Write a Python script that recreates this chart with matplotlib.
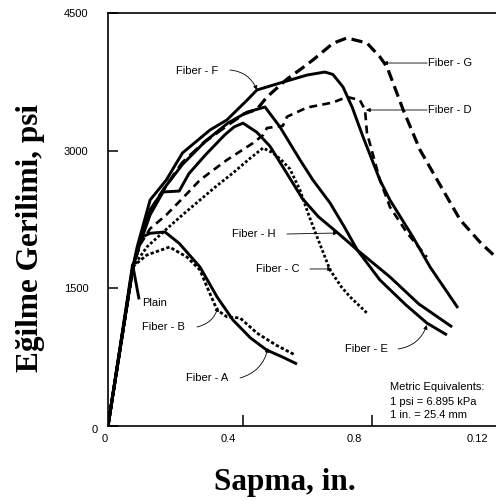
import matplotlib
matplotlib.use("Agg")
from matplotlib import pyplot as plt
from matplotlib import transforms

# deflection (in.) / flexural stress (psi)
plain_x = [0, 0.076, 0.096]
plain_y = [0, 1760, 1380]

a_x = [0, 0.077, 0.1, 0.13, 0.176, 0.22, 0.284, 0.337, 0.386, 0.44, 0.49, 0.54, 0.584]
a_y = [0, 1733, 2050, 2100, 2114, 1990, 1733, 1406, 1155, 960, 828, 750, 675]

b_x = [0, 0.077, 0.083, 0.12, 0.19, 0.244, 0.284, 0.306, 0.337, 0.368, 0.408, 0.46, 0.52, 0.578]
b_y = [0, 1733, 1755, 1863, 1950, 1841, 1700, 1515, 1264, 1188, 1177, 1013, 880, 774]

c_x = [0, 0.077, 0.12, 0.182, 0.23, 0.284, 0.33, 0.386, 0.44, 0.479, 0.51, 0.535, 0.562,
       0.593, 0.62, 0.646, 0.686, 0.72, 0.748, 0.80]
c_y = [0, 1733, 1950, 2150, 2300, 2462, 2600, 2757, 2920, 3029, 2975, 2900, 2800,
       2571, 2300, 2059, 1700, 1520, 1406, 1231]

d_x = [0, 0.077, 0.1, 0.13, 0.18, 0.23, 0.284, 0.367, 0.448, 0.479, 0.491, 0.54, 0.553,
       0.615, 0.695, 0.738, 0.778, 0.794, 0.80, 0.84, 0.871, 0.924, 0.985]
d_y = [0, 1733, 1980, 2150, 2300, 2480, 2680, 2898, 3083, 3170, 3247, 3270, 3370,
       3470, 3525, 3585, 3552, 3443, 3193, 2680, 2386, 2103, 1841]

e_x = [0, 0.077, 0.1, 0.13, 0.18, 0.23, 0.3, 0.37, 0.43, 0.485, 0.531, 0.593, 0.633,
       0.686, 0.73, 0.77, 0.84, 0.92, 0.985, 1.047]
e_y = [0, 1733, 2050, 2350, 2620, 2850, 3100, 3300, 3420, 3476, 3260, 2900, 2680,
       2430, 2170, 1918, 1591, 1320, 1122, 992]

f_x = [0, 0.077, 0.09, 0.13, 0.18, 0.23, 0.315, 0.367, 0.43, 0.46, 0.531, 0.615, 0.67,
       0.695, 0.726, 0.754, 0.788, 0.84, 0.871, 0.942, 0.995, 1.081]
f_y = [0, 1733, 1950, 2462, 2680, 2975, 3225, 3334, 3552, 3661, 3737, 3824, 3857,
       3830, 3694, 3476, 3149, 2680, 2462, 2059, 1732, 1286]

g_x = [0, 0.077, 0.1, 0.13, 0.18, 0.23, 0.3, 0.37, 0.42, 0.46, 0.491, 0.553, 0.6, 0.633,
       0.695, 0.738, 0.80, 0.84, 0.862, 0.912, 0.964, 1.017, 1.088, 1.15, 1.21]
g_y = [0, 1733, 2000, 2350, 2620, 2870, 3100, 3280, 3400, 3450, 3585, 3780, 3900, 3988,
       4170, 4228, 4173, 4021, 3912, 3443, 3007, 2680, 2245, 2000, 1800]

h_x = [0, 0.077, 0.1, 0.13, 0.17, 0.22, 0.25, 0.3, 0.36, 0.39, 0.417, 0.46, 0.5, 0.553,
       0.6, 0.65, 0.71, 0.77, 0.871, 0.96, 1.063]
h_y = [0, 1733, 2000, 2300, 2550, 2560, 2750, 2950, 3170, 3260, 3300, 3200, 3050, 2750,
       2480, 2280, 2103, 1918, 1624, 1330, 1079]

x_tick_labels = ["0", "0.4", "0.8", "0.12"]
y_ticks = [0, 1500, 3000, 4500]

sans = "Liberation Sans"
serif = "Liberation Serif"

fig = plt.figure(figsize=(4.96, 5.01), dpi=100)
ax = fig.add_axes([108/496, 1 - 426/501, 1 - 108/496, 413/501])

solid = dict(color="black", lw=2.1, solid_capstyle="butt")
ax.plot(plain_x, plain_y, **solid)
ax.plot(a_x, a_y, **solid)
ax.plot(e_x, e_y, **solid)
ax.plot(f_x, f_y, **solid)
ax.plot(h_x, h_y, **solid)
ax.plot(b_x, b_y, color="black", lw=2.0, linestyle=(0, (1.2, 0.8)))
ax.plot(c_x, c_y, color="black", lw=2.0, linestyle=(0, (1.0, 0.8)))
ax.plot(d_x, d_y, color="black", lw=1.9, linestyle=(0, (3.0, 2.0)))
ax.plot(g_x, g_y, color="black", lw=2.3, linestyle=(0, (3.5, 1.8)))

ax.set_xlim(0, 1.1986)
ax.set_ylim(0, 4500)

for side in ["top", "bottom", "left"]:
    ax.spines[side].set_linewidth(1.2)
ax.spines["right"].set_visible(False)

# tick marks sit where the scan puts them, labels are placed separately
ax.set_xticks([0.417, 0.8156])
ax.set_xticklabels([])
ax.tick_params(axis="x", direction="in", length=8, width=1.1)
ax.set_yticks(y_ticks)
ax.set_yticklabels([""] + [str(v) for v in y_ticks[1:]], fontfamily=sans, fontsize=8)
ax.tick_params(axis="y", direction="in", length=7, width=1.1, pad=14)
ax.text(-10/388, -4/413, "0", transform=ax.transAxes, ha="right", va="center",
        fontfamily=sans, fontsize=8)

trans = transforms.blended_transform_factory(ax.transData, ax.transAxes)
for pos, lab in zip([-0.009, 0.371, 0.76, 1.14], x_tick_labels):
    ax.text(pos, -13/413, lab, transform=trans, ha="center", va="center",
            fontfamily=sans, fontsize=8)

fig.text(31/496, 1 - 238.5/501, "Eğilme Gerilimi, psi", rotation=90, ha="center",
         va="center", fontfamily=serif, fontweight="bold", fontsize=22.5)
fig.text(285/496, 1 - 490/501, "Sapma, in.", ha="center", va="baseline",
         fontfamily=serif, fontweight="bold", fontsize=22.5)

def label(txt, xt, yt, ha="right"):
    ax.text(xt, yt, txt, ha=ha, va="center", fontfamily=sans, fontsize=8)

def arrow(start, end, rad=0.0):
    ax.annotate("", xy=end, xytext=start,
                arrowprops=dict(arrowstyle="-|>", lw=0.6, color="black",
                                shrinkA=0, shrinkB=0, mutation_scale=6,
                                connectionstyle="arc3,rad=%s" % rad))

label("Fiber - F", 0.34, 3868)
arrow((0.377, 3879), (0.46, 3661), -0.3)
label("Fiber - G", 0.989, 3955, ha="left")
arrow((0.986, 3955), (0.85, 3955))
label("Fiber - D", 0.989, 3443, ha="left")
arrow((0.986, 3443), (0.797, 3443))
label("Fiber - H", 0.516, 2092)
arrow((0.553, 2092), (0.71, 2103))
label("Fiber - C", 0.593, 1711)
arrow((0.624, 1711), (0.692, 1711))
label("Plain", 0.105, 1340, ha="left")
label("Fiber - B", 0.238, 1079)
arrow((0.275, 1079), (0.34, 1297), 0.3)
label("Fiber - E", 0.865, 839)
arrow((0.896, 839), (0.985, 1100), 0.3)
label("Fiber - A", 0.371, 523)
arrow((0.408, 523), (0.494, 850), 0.3)

ax.text(0.871, 425, "Metric Equivalents:", ha="left", va="center", fontfamily=sans, fontsize=8)
ax.text(0.871, 262, "1 psi = 6.895 kPa", ha="left", va="center", fontfamily=sans, fontsize=8)
ax.text(0.871, 120, "1 in. = 25.4 mm", ha="left", va="center", fontfamily=sans, fontsize=8)

fig.savefig("out.png", dpi=100)
